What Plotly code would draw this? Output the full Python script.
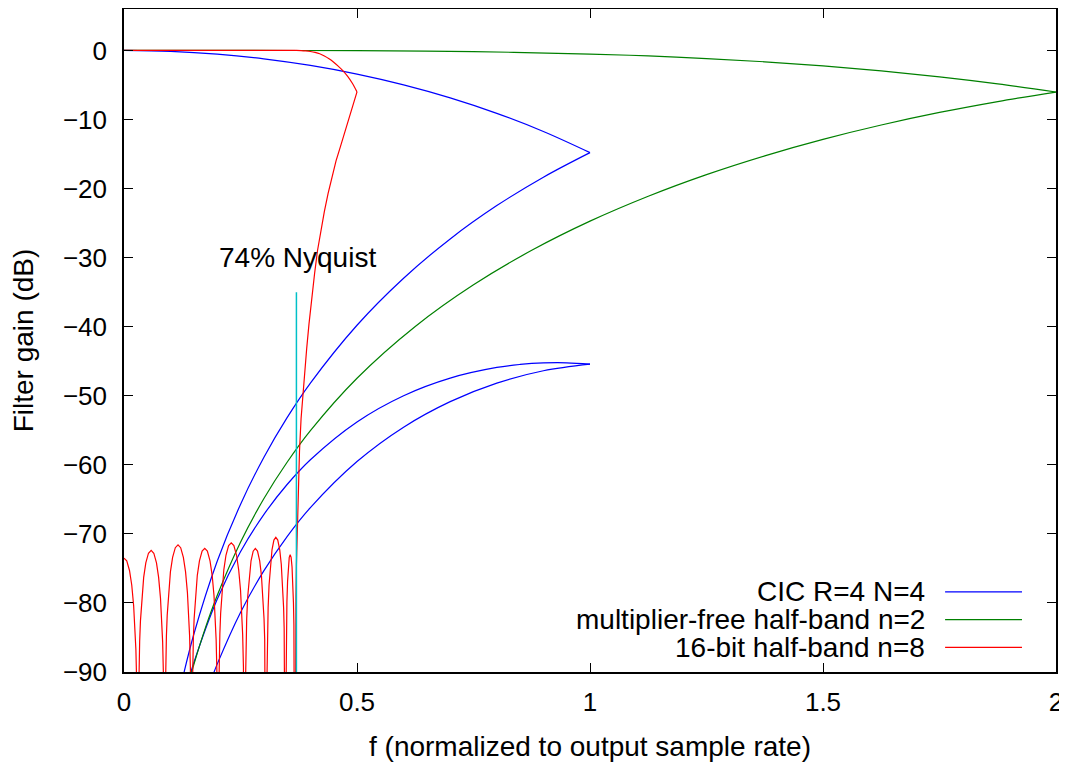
import plotly.graph_objects as go

# ---------------- data ----------------
# CIC R=4 N=4 (blue): passband and folded images
cic_main_x = [0, 0.1, 0.2, 0.3, 0.4, 0.5, 0.6, 0.7, 0.8, 0.9, 1.0]
cic_main_y = [0, -0.135, -0.538, -1.215, -2.174, -3.425, -4.983, -6.868, -9.107, -11.733, -14.794]

cic_img1_x = [1.0, 0.9, 0.8, 0.7, 0.6, 0.5, 0.4, 0.35, 0.3, 0.25, 0.2, 0.15, 0.12]
cic_img1_y = [-14.794, -18.35, -22.47, -27.29, -32.98, -39.79, -48.17, -53.17, -58.94, -65.73, -73.97, -84.50, -92.59]

cic_img2_x = [0.13, 0.14, 0.15, 0.2, 0.25, 0.3, 0.35, 0.4, 0.5, 0.6, 0.7, 0.8, 0.85, 0.9, 0.95, 1.0]
cic_img2_y = [-93.25, -90.84, -88.60, -79.45, -72.59, -67.21, -62.85, -59.26, -53.79, -49.99, -47.44, -45.90, -45.47, -45.25, -45.23, -45.42]

cic_img3_x = [1.0, 0.9, 0.8, 0.7, 0.6, 0.5, 0.4, 0.35, 0.3, 0.25, 0.2, 0.19]
cic_img3_y = [-45.42, -46.38, -48.17, -50.85, -54.55, -59.53, -66.20, -70.39, -75.36, -81.37, -88.86, -90.60]

# multiplier-free half-band n=2 (green)
mf_main_x = [0, 0.25, 0.5, 0.75, 1.0, 1.125, 1.25, 1.375, 1.5, 1.625, 1.75, 1.875, 2.0]
mf_main_y = [0, -0.002, -0.037, -0.176, -0.520, -0.800, -1.172, -1.646, -2.237, -2.955, -3.817, -4.832, -6.021]

mf_img_x = [2.0, 1.875, 1.75, 1.625, 1.5, 1.375, 1.25, 1.125, 1.0, 0.875, 0.75, 0.625, 0.5,
            0.4, 0.35, 0.3, 0.25, 0.2, 0.175, 0.15, 0.14]
mf_img_y = [-6.021, -7.40, -8.98, -10.80, -12.88, -15.26, -17.98, -21.11, -24.72, -28.94, -33.93, -39.96, -47.46,
            -55.05, -59.63, -64.92, -71.21, -78.92, -83.54, -88.89, -91.28]

# 16-bit half-band n=8 (red): passband
hb_main_x = [0, 0.35, 0.37, 0.38, 0.39, 0.40, 0.41, 0.42, 0.43, 0.44, 0.45, 0.46, 0.47, 0.48, 0.49, 0.50]
hb_main_y = [0, 0, 0, -0.02, -0.07, -0.15, -0.28, -0.48, -0.8, -1.2, -1.7, -2.3, -2.95, -3.75, -4.75, -6.0]

# red: folded stopband lobes (values below -90 are off the chart)
hb_stop_x = [
    0, 0.0059, 0.0118, 0.0166, 0.0207, 0.0237, 0.0255, 0.0272, 0.0284, 0.0296,
    0.0307, 0.0319, 0.0336, 0.0353, 0.0382, 0.0422, 0.0468, 0.0525, 0.0583, 0.0640, 0.0697, 0.0743, 0.0783, 0.0812, 0.0829, 0.0846, 0.0858, 0.0869,
    0.0881, 0.0892, 0.0910, 0.0927, 0.0956, 0.0996, 0.1043, 0.1101, 0.1159, 0.1216, 0.1274, 0.1321, 0.1361, 0.1390, 0.1408, 0.1425, 0.1436, 0.1448,
    0.1459, 0.1471, 0.1488, 0.1505, 0.1533, 0.1573, 0.1619, 0.1676, 0.1733, 0.1789, 0.1846, 0.1892, 0.1932, 0.1960, 0.1977, 0.1994, 0.2006, 0.2017,
    0.2028, 0.2040, 0.2057, 0.2074, 0.2102, 0.2142, 0.2188, 0.2245, 0.2302, 0.2358, 0.2415, 0.2461, 0.2501, 0.2529, 0.2546, 0.2563, 0.2575, 0.2586,
    0.2595, 0.2605, 0.2619, 0.2633, 0.2656, 0.2688, 0.2726, 0.2772, 0.2818, 0.2865, 0.2912, 0.2949, 0.2981, 0.3005, 0.3019, 0.3032, 0.3042, 0.3051,
    0.3059, 0.3068, 0.3080, 0.3093, 0.3113, 0.3142, 0.3176, 0.3217, 0.3258, 0.3300, 0.3342, 0.3375, 0.3404, 0.3425, 0.3437, 0.3449, 0.3458, 0.3466,
    0.3470, 0.3474, 0.3480, 0.3486, 0.3496, 0.3510, 0.3526, 0.3546, 0.3566, 0.3586, 0.3606, 0.3622, 0.3636, 0.3646, 0.3652, 0.3658, 0.3662, 0.3666,
]
hb_stop_y = [
    -73.5, -73.9, -75.3, -77.4, -80.4, -83.7, -86.7, -91.5, -97.5, -120,
    -96.4, -90.4, -85.6, -82.6, -79.3, -76.3, -74.2, -72.8, -72.4, -72.8, -74.2, -76.3, -79.3, -82.6, -85.6, -90.4, -96.4, -120,
    -95.6, -89.6, -84.8, -81.8, -78.5, -75.5, -73.4, -72.0, -71.6, -72.0, -73.4, -75.5, -78.5, -81.8, -84.8, -89.6, -95.6, -120,
    -96.1, -90.1, -85.3, -82.3, -79.0, -76.0, -73.9, -72.5, -72.1, -72.5, -73.9, -76.0, -79.0, -82.3, -85.3, -90.1, -96.1, -120,
    -95.3, -89.3, -84.5, -81.5, -78.2, -75.2, -73.1, -71.7, -71.3, -71.7, -73.1, -75.2, -78.2, -81.5, -84.5, -89.3, -95.3, -120,
    -96.1, -90.1, -85.3, -82.3, -79.0, -76.0, -73.9, -72.5, -72.1, -72.5, -73.9, -76.0, -79.0, -82.3, -85.3, -90.1, -96.1, -120,
    -94.5, -88.5, -83.7, -80.7, -77.4, -74.4, -72.3, -70.9, -70.5, -70.9, -72.3, -74.4, -77.4, -80.7, -83.7, -88.5, -94.5, -120,
    -97.0, -91.0, -86.2, -83.2, -79.9, -76.9, -74.8, -73.4, -73.0, -73.4, -74.8, -76.9, -79.9, -83.2, -86.2, -91.0, -97.0, -120,
]

# red: folded transition band rising back to the -6 dB corner
hb_rise_x = [0.3666, 0.3672, 0.3680, 0.3690, 0.3700, 0.3715, 0.3730, 0.3750, 0.3766, 0.3800, 0.3837, 0.3880,
             0.3920, 0.3970, 0.4024, 0.4090, 0.4152, 0.4230, 0.4300, 0.4380, 0.4453, 0.4550, 0.4646, 0.4730,
             0.4818, 0.4910, 0.5000]
hb_rise_y = [-120, -95, -86, -79, -74.5, -70.5, -67.0, -62.0, -58.0, -53.3, -49.8, -46.3,
             -43.2, -39.6, -36.1, -32.3, -29.0, -25.8, -23.3, -20.7, -18.5, -16.0, -13.9, -12.0,
             -10.1, -8.0, -6.0]

# 74% Nyquist marker
nyq_x = [0.37, 0.37]
nyq_y = [-90, -35]
nyq_label = "74% Nyquist"
nyq_label_pos = (0.2, -30)

legend_names = ["CIC R=4 N=4", "multiplier-free half-band n=2", "16-bit half-band n=8"]
colors = ["#0000ff", "#008000", "#ff0000"]
cyan = "#00c0c8"

x_ticks = [0, 0.5, 1, 1.5, 2]
x_tick_text = ["0", "0.5", "1", "1.5", "2"]
y_ticks = [-90, -80, -70, -60, -50, -40, -30, -20, -10, 0]
y_tick_text = ["\u221290", "\u221280", "\u221270", "\u221260", "\u221250",
               "\u221240", "\u221230", "\u221220", "\u221210", "0"]

FONT = "Liberation Sans, Arial, Helvetica, sans-serif"
FS = 28      # labels / legend / titles
FS_TICK = 26
LW = 1.2

fig = go.Figure()

def add(x, y, color, shape="linear", width=LW):
    fig.add_trace(go.Scatter(x=x, y=y, mode="lines",
                             line=dict(color=color, width=width, shape=shape),
                             showlegend=False, hoverinfo="skip", cliponaxis=True))

add(cic_main_x, cic_main_y, colors[0], "spline")
add(cic_img1_x, cic_img1_y, colors[0], "spline")
add(cic_img2_x, cic_img2_y, colors[0], "spline")
add(cic_img3_x, cic_img3_y, colors[0], "spline")
add(mf_main_x, mf_main_y, colors[1], "spline")
add(mf_img_x, mf_img_y, colors[1], "spline")
add(hb_main_x, hb_main_y, colors[2], "spline")
add(hb_stop_x, hb_stop_y, colors[2])
add(hb_rise_x, hb_rise_y, colors[2])
add(nyq_x, nyq_y, cyan, width=1.5)

# gnuplot-style legend: right-aligned text, sample line to its right
leg_rows_y = [0.121, 0.079, 0.037]
for name, col, yy in zip(legend_names, colors, leg_rows_y):
    fig.add_annotation(x=0.862, y=yy, xref="paper", yref="paper", text=name,
                       showarrow=False, xanchor="right", yanchor="middle",
                       font=dict(family=FONT, size=FS, color="black"))
    fig.add_shape(type="line", xref="paper", yref="paper",
                  x0=0.881, x1=0.9635, y0=yy, y1=yy,
                  line=dict(color=col, width=LW))

fig.add_annotation(x=nyq_label_pos[0], y=nyq_label_pos[1], text=nyq_label,
                   showarrow=False, xanchor="left", yanchor="middle",
                   font=dict(family=FONT, size=FS, color="black"))

axis_common = dict(showline=True, linecolor="black", linewidth=1.5, mirror="allticks",
                   ticks="inside", ticklen=9, tickwidth=1.2, tickcolor="black",
                   showgrid=False, zeroline=False, ticklabeloverflow="allow",
                   tickfont=dict(family=FONT, size=FS_TICK, color="black"))

# the page body has an 8px margin, so the figure is sized to fit the window
fig.update_layout(
    width=1059, height=754,
    margin=dict(l=116, r=11, t=1, b=90, autoexpand=False),
    plot_bgcolor="white", paper_bgcolor="white",
    showlegend=False,
    font=dict(family=FONT, size=FS, color="black"),
    xaxis=dict(range=[0, 2], tickvals=x_ticks, ticktext=x_tick_text,
               title=dict(text="f (normalized to output sample rate)", standoff=22,
                          font=dict(family=FONT, size=FS)),
               ticklabelstandoff=6, automargin=False, **axis_common),
    yaxis=dict(range=[-90, 6], tickvals=y_ticks, ticktext=y_tick_text,
               title=dict(text="Filter gain (dB)", standoff=26,
                          font=dict(family=FONT, size=FS)),
               ticklabelstandoff=10, automargin=False, **axis_common),
)

fig.write_html("out.html")
